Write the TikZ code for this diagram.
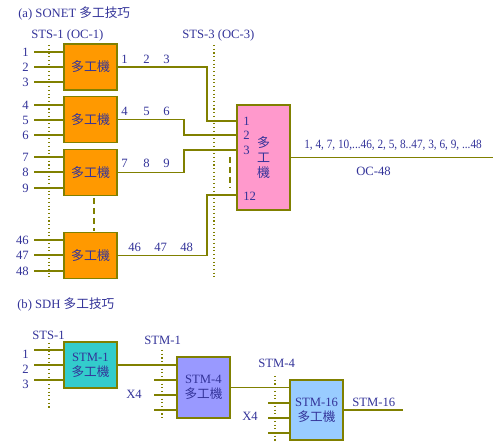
\documentclass[tikz,border=0pt]{standalone}
\usepackage{fontspec}
\setmainfont{Liberation Serif}
\newfontfamily\cjk{Noto Sans CJK TC}
\usetikzlibrary{positioning}
\definecolor{LineOlive}{RGB}{128,128,0}
\definecolor{TextNavy}{RGB}{51,51,153}
\definecolor{MuxOrange}{RGB}{255,153,0}
\definecolor{MuxPink}{RGB}{255,153,204}
\definecolor{MuxTeal}{RGB}{51,204,204}
\definecolor{MuxLilac}{RGB}{153,153,255}
\definecolor{MuxSky}{RGB}{153,204,255}
\tikzset{
  wire/.style={draw=LineOlive,line width=0.8pt},
  guide/.style={draw=LineOlive,line width=0.8pt,dotted},
  gap/.style={draw=LineOlive,line width=2pt,dash pattern=on 4.5pt off 3pt},
  lab/.style={text=TextNavy,inner sep=0pt,font=\fontsize{9.5}{11}\selectfont},
  muxbox/.style={draw=LineOlive,line width=0.8pt,fill=MuxOrange,text=TextNavy,
    minimum width=39.75pt,minimum height=34.5pt,inner sep=0pt,
    font=\fontsize{9.75}{11.25}\selectfont\cjk},
  stmbox/.style={muxbox,align=center,font=\fontsize{9.5}{11.25}\selectfont},
}
\begin{document}
\begin{tikzpicture}[x=0.75pt,y=-0.75pt]
\useasboundingbox (0,0) rectangle (499,448);
% (a) SONET
\node[lab,anchor=west] (titleA) at (18,14) {(a) SONET {\cjk 多工技巧}};
\node[lab,anchor=west] (sts1) at (31,35) {STS-1 (OC-1)};
\node[lab,anchor=west] (sts3) at (182,35) {STS-3 (OC-3)};
\draw[guide] (49,45) -- (49,277);
\draw[guide] (214,45) -- (214,277);
\node[muxbox] (mA) at (90.5,67) {多工機};
\node[muxbox] (mB) at (90.5,119.5) {多工機};
\node[muxbox] (mC) at (90.5,172.5) {多工機};
\node[muxbox] (mD) at (90.5,255.5) {多工機};
\foreach \b/\n/\y in {mA/1/52,mA/2/67,mA/3/82,mB/4/105,mB/5/120,mB/6/135,
    mC/7/157,mC/8/172,mC/9/188,mD/46/240,mD/47/255,mD/48/271} {
  \node[lab,anchor=east] (n\n) at (29,\y) {\n};
  \coordinate (w\n) at (34,\y);
  \draw[wire] (w\n) -- (w\n -| \b.west);
}
\coordinate (dA) at (94,198);
\coordinate (dB) at (94,231);
\draw[gap] (dA) -- (dB);
% channel numbers
\foreach \t/\x/\y in {1/121/59,2/143/59,3/163/59,4/121/111,5/143/111,6/163/111,
    7/121/163,8/143/163,9/163/163,46/128/247,47/154/247,48/180/247} {
  \node[lab,anchor=west] (c\t) at (\x,\y) {\t};
}
% STS-3 multiplexer
\node[muxbox,fill=MuxPink,minimum height=78.75pt,align=center] (mux) at (263.5,157.5) {多\\工\\機};
\coordinate (p1) at (mux.west |- 0,121);
\coordinate (p2) at (mux.west |- 0,135);
\coordinate (p3) at (mux.west |- 0,150);
\coordinate (p12) at (mux.west |- 0,195);
\node[lab,anchor=west] at (243,121) {1};
\node[lab,anchor=west] at (243,135) {2};
\node[lab,anchor=west] at (243,150) {3};
\node[lab,anchor=west] at (243,196) {12};
\draw[wire] (mA.east) -| (207,121) -- (p1);
\draw[wire] (mB.east) -| (184,135) -- (p2);
\draw[wire] (mC.east) -| (184,150) -- (p3);
\draw[wire] (mD.east) -| (207,195) -- (p12);
\draw[gap] (230,157) -- (230,188);
\coordinate (oc48) at (493,157.5);
\draw[wire] (mux.east) -- (oc48);
\node[lab,anchor=west] (seq) at (304,145) {\scalebox{0.89}[1]{1, 4, 7, 10,...46, 2, 5, 8..47, 3, 6, 9, ...48}};
\node[lab,anchor=west] (oc) at (356,171) {OC-48};
% (b) SDH
\node[lab,anchor=west] (titleB) at (17,305) {(b) SDH {\cjk 多工技巧}};
\node[lab,anchor=west] (stsB) at (32,335) {STS-1};
\draw[guide] (49,343) -- (49,409);
\node[stmbox,fill=MuxTeal] (stm1) at (90.5,365) {STM-1\\{\cjk 多工機}};
\foreach \n/\y in {1/350,2/365,3/380} {
  \node[lab,anchor=east] (s\n) at (29,\y+4) {\n};
  \coordinate (u\n) at (34,\y);
  \draw[wire] (u\n) -- (u\n -| stm1.west);
}
\node[lab,anchor=west] (lstm1) at (144,340) {STM-1};
\draw[guide] (162,350) -- (162,418);
\node[stmbox,fill=MuxLilac,minimum height=45.75pt] (stm4) at (203.5,387.5) {STM-4\\{\cjk 多工機}};
\draw[wire] (stm1.east) -- (stm1.east -| stm4.west);
\foreach \y in {380,395,410} {
  \coordinate (v\y) at (154,\y);
  \draw[wire] (v\y) -- (v\y -| stm4.west);
}
\node[lab,anchor=west] (xA) at (126,394) {X4};
\node[lab,anchor=west] (lstm4) at (258,363) {STM-4};
\draw[guide] (275,376) -- (275,443);
\node[stmbox,fill=MuxSky,minimum height=45pt] (stm16) at (316.5,410) {STM-16\\{\cjk 多工機}};
\draw[wire] (stm4.east) -- (stm4.east -| stm16.west);
\foreach \y in {403,418,433} {
  \coordinate (z\y) at (268,\y);
  \draw[wire] (z\y) -- (z\y -| stm16.west);
}
\node[lab,anchor=west] (xB) at (242,416) {X4};
\coordinate (out16) at (403,410);
\draw[wire] (stm16.east) -- (out16);
\node[lab,anchor=west] (lstm16) at (352,402) {STM-16};
\end{tikzpicture}
\end{document}
